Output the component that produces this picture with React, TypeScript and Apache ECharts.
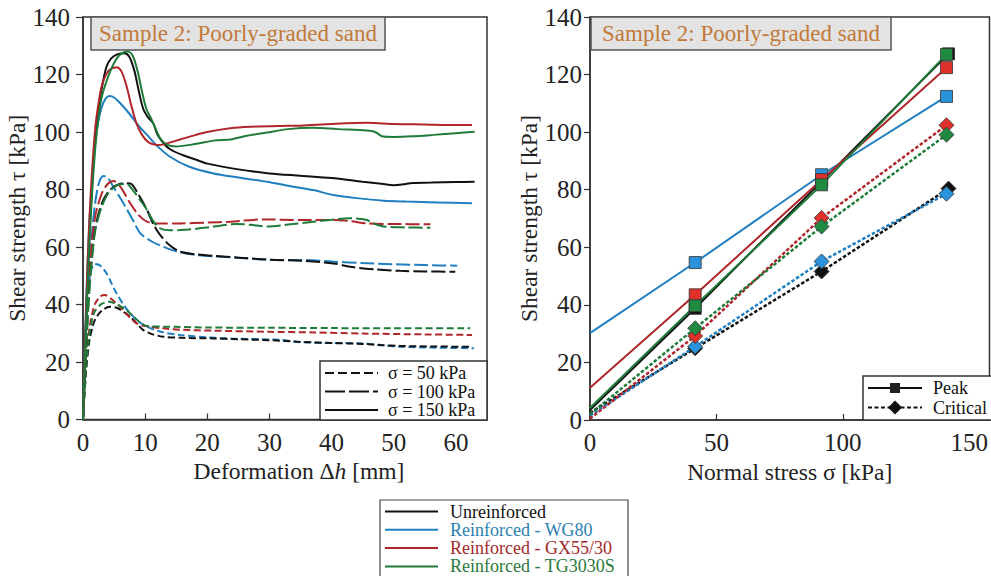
import React, { useEffect, useRef } from "react";
import * as echarts from "echarts";

// ---------- Left chart: shear strength vs deformation ----------
// [deformation mm, shear strength kPa]
const unreinforced150 = [[0,0],[0.5,35],[1,62],[1.5,83],[2,98],[2.5,108],[3,115],[3.75,122.5],[4.5,125.5],[5.5,127],[6.7,127.4],[7.5,126],[8.3,121],[9,114],[9.7,108],[10.5,105],[11.3,103],[12,99],[13,96],[14,94],[16,92],[18,90.5],[20,89],[25,87],[30,85.6],[35,84.8],[40,84],[45,82.7],[48,82],[50,81.5],[51.5,81.8],[53,82.3],[56,82.4],[60,82.6],[63,82.7]];
const wg80_150 = [[0,0],[0.5,40],[1,68],[1.6,86],[2,97],[2.4,103],[3,108.5],[3.6,111.5],[4.3,112.5],[5,112],[6,110],[7.6,106],[9,102],[10.3,99],[12,95],[14,91.4],[17,88],[21,85.6],[25,84.2],[29.6,82.7],[33,81.3],[37,79.8],[40.3,78.1],[44,77],[48.4,76.1],[52,75.8],[57,75.5],[62.6,75.2]];
const gx55_150 = [[0,0],[0.5,38],[1,68],[1.5,88],[2,102],[2.5,110],[2.95,115.5],[3.5,119],[4.2,121.5],[5.4,122.5],[6.2,121],[7,116],[7.8,109],[8.6,103],[9.5,99],[10.5,96.5],[11.9,95.5],[13,95.7],[15,97],[17.2,98.4],[20,100],[23.7,101.3],[27,101.8],[31.7,102.1],[35,102.2],[40,102.8],[45.7,103.2],[50,102.8],[55,102.6],[60,102.4],[62.6,102.4]];
const tg3030_150 = [[0,0],[0.5,33],[1,60],[1.5,80],[2,95],[2.5,105],[3,112],[4,119],[5,124],[6,127],[7.2,128],[8,126.5],[8.8,121],[9.5,114],[10.2,108],[11,104.5],[11.7,101],[12.5,97.5],[13.6,95.5],[15,95],[18,95.8],[21,97],[24,97.5],[26,98.5],[29.6,99.8],[33,101],[37,101.5],[41,101],[45.7,100.5],[47,100],[48.3,98.4],[50,98.3],[53,98.5],[56.4,99],[60,99.6],[63,100.1]];

const unreinforced100 = [[0,0],[0.5,25],[1,45],[1.5,58],[2,67],[3,75],[4,79],[5,81],[6,82],[7,82.2],[7.8,81.9],[9,78],[10.3,72.9],[11.3,68],[12.4,64.2],[14,60.5],[15.6,58.4],[18,57.5],[21,56.9],[25,56.3],[30,55.6],[35,55.2],[40.3,54.3],[43,53.1],[47,52.2],[51,51.7],[55,51.5],[59.9,51.4]];
const wg80_100 = [[0,0],[0.5,32],[1,52],[1.5,66],[2,76],[2.6,82.5],[3.3,84.7],[4,84],[5,80.5],[6.5,75.2],[8,69.5],[9.2,64.8],[11,62],[12.9,60.1],[15,58.5],[18.3,57.2],[23.7,56.4],[31.7,55.5],[35,55.5],[40.3,54.9],[45,54.4],[50,54],[55,53.7],[60.2,53.5]];
const gx55_100 = [[0,0],[0.5,28],[1,50],[1.5,63],[2,71],[3,78.5],[4,82],[4.9,83],[6,81],[7.6,75.2],[9,71],[10.3,68.8],[12,68.2],[15.6,68.2],[20,68.5],[23.7,68.8],[29,69.6],[35,69.4],[40.3,69.4],[43,69],[45.7,68.2],[50,68],[55.9,67.9]];
const tg3030_100 = [[0,0],[0.5,24],[1,44],[1.5,57],[2,66],[3,74],[4,78.5],[5,80.8],[6,81.8],[7,81.9],[8.3,79],[9.3,76],[10.3,72.9],[11.3,69],[12.4,66.5],[14,65.8],[15.6,65.9],[18,66.3],[21,67.1],[24.7,68],[27,67.7],[29.6,67.1],[33,67.8],[37.1,68.8],[40,69.5],[43,70],[45.5,69.5],[47,68],[48.4,67.1],[52,66.8],[55.9,66.7]];

const unreinforced50 = [[0,0],[0.5,17],[1,27],[1.5,32],[2,35],[3,37.8],[4.3,39.2],[5.5,38.8],[6.5,37.5],[7.6,35.8],[8.7,33.3],[9.7,31.1],[11,29.8],[12.9,28.8],[16,28.4],[21,28.2],[25,27.9],[30,27.6],[35,27],[40,26.6],[45,26.3],[48,25.9],[51,25.6],[56,25.4],[62.6,25.3]];
const wg80_50 = [[0,0],[0.4,25],[0.8,42],[1.2,51],[1.9,54.1],[2.8,53.5],[3.8,50.8],[4.6,47.3],[5.4,43.9],[6.5,40],[7.6,36.9],[9,34],[10.3,32.3],[12.5,30.5],[15.6,29.4],[20,28.6],[23.7,28.2],[31.7,27.7],[35,26.9],[40,26.6],[44.6,26.5],[48,25.8],[51,25.3],[56,25],[62.9,24.8]];
const gx55_50 = [[0,0],[0.5,20],[1,31],[1.5,37],[2,40.5],[2.8,42.8],[3.5,43.3],[4.5,42],[6,39.2],[7.3,36],[8.6,33.5],[10,32.5],[12.9,31.7],[16,31.2],[21,30.9],[30,30.5],[37.1,30.3],[45,29.9],[55,29.6],[62.6,29.4]];
const tg3030_50 = [[0,0],[0.5,18],[1,29],[1.5,35],[2,38],[3,40.2],[4.3,41],[5.5,40],[7,38.1],[8.3,35.5],[9.7,32.9],[11,32.4],[12.9,32.3],[20,32],[30,31.9],[40,31.8],[50,31.7],[62.3,31.7]];

// ---------- Right chart: failure envelopes ----------
const normalStress = [0, 41.6, 91.6, 141];
const peakUnreinforced = [3.5, 38.8, 82.9, 127.2];
const peakWG80 = [30.2, 54.7, 85.2, 112.4];
const peakGX55 = [11.2, 43.5, 83.5, 122.4];
const peakTG3030 = [4.2, 39.7, 81.7, 127];
const critUnreinforced = [2.5, 24.9, 51.6, 80.4];
const critWG80 = [1.5, 25.5, 55.1, 78.6];
const critGX55 = [0.5, 29.2, 70.2, 102.4];
const critTG3030 = [2, 31.9, 67.2, 99.1];

const leftTicksX = [0, 10, 20, 30, 40, 50, 60];
const rightTicksX = [0, 50, 100, 150];

const sampleTitle = "Sample 2: Poorly-graded sand";
const stressLegend = ["σ = 50 kPa", "σ = 100 kPa", "σ = 150 kPa"];
const typeLegend = ["Peak", "Critical"];
const reinforcementNames = ["Unreinforced", "Reinforced - WG80", "Reinforced - GX55/30", "Reinforced - TG3030S"];

const FONT = "Liberation Serif, Times New Roman, serif";
const LINE_COLORS = ["#111111", "#1f7fc0", "#b0262a", "#1e7b3a"];
const TEXT_COLORS = ["#111111", "#2a7fb0", "#a3282a", "#2a7a3a"];
const MARKER_FILLS = ["#111111", "#2a93dc", "#e0302c", "#1f8a40"];
const DASH_100 = [14, 4];
const DASH_50 = [7, 3.5];

export default function App() {
  const ref = useRef<HTMLDivElement>(null);

  useEffect(() => {
    if (!ref.current) return;
    const chart = echarts.init(ref.current, undefined, { renderer: "svg" });

    const axisLine = { show: true, onZero: false, lineStyle: { color: "#333", width: 1.5 } };
    const labelStyle = { fontFamily: FONT, fontSize: 25, color: "#222" };
    const nameStyle = { fontFamily: FONT, fontSize: 23.5, color: "#222" };

    const curveSets = [
      [unreinforced50, wg80_50, gx55_50, tg3030_50],
      [unreinforced100, wg80_100, gx55_100, tg3030_100],
      [unreinforced150, wg80_150, gx55_150, tg3030_150],
    ];
    const dashes: any[] = [DASH_50, DASH_100, "solid"];
    const series: any[] = [];
    const drawOrder = [1, 0, 2, 3];
    curveSets.forEach((set, si) => {
      drawOrder.forEach((ri) => {
        series.push({
          type: "line",
          name: reinforcementNames[ri] + " " + stressLegend[si],
          xAxisIndex: 0,
          yAxisIndex: 0,
          data: set[ri],
          showSymbol: false,
          symbol: "none",
          smooth: 0.3,
          lineStyle: { color: LINE_COLORS[ri], width: 2, type: dashes[si] },
          z: 2,
        });
      });
    });

    const peakSets = [peakUnreinforced, peakWG80, peakGX55, peakTG3030];
    const critSets = [critUnreinforced, critWG80, critGX55, critTG3030];
    const mk = (vals: number[], ri: number) =>
      vals.map((v, i) => {
        const x = ri === 0 && i === 3 ? normalStress[i] + 0.8 : normalStress[i];
        return i === 0 ? { value: [x, v], symbol: "none" } : { value: [x, v] };
      });
    [0, 1, 2, 3].forEach((ri) => {
      series.push({
        type: "line",
        name: reinforcementNames[ri] + " Critical",
        xAxisIndex: 1,
        yAxisIndex: 1,
        data: mk(critSets[ri], ri),
        symbol: "diamond",
        symbolSize: 15,
        lineStyle: { color: LINE_COLORS[ri], width: 2.5, type: [3.5, 2] },
        itemStyle: { color: MARKER_FILLS[ri], borderColor: "#333", borderWidth: 0.8 },
        z: 3,
      });
    });
    [0, 1, 2, 3].forEach((ri) => {
      series.push({
        type: "line",
        name: reinforcementNames[ri] + " Peak",
        xAxisIndex: 1,
        yAxisIndex: 1,
        data: mk(peakSets[ri], ri),
        symbol: "rect",
        symbolSize: 12,
        lineStyle: { color: LINE_COLORS[ri], width: 2 },
        itemStyle: { color: MARKER_FILLS[ri], borderColor: "#333", borderWidth: 0.8 },
        z: 4,
      });
    });

    const graphics: any[] = [];
    // Title boxes
    const titleBox = (x: number, w: number) => {
      graphics.push({
        type: "rect",
        shape: { x, y: 17, width: w, height: 33 },
        style: { fill: "#e3e3e3", stroke: "#555", lineWidth: 1.5 },
        z: 100,
      });
      graphics.push({
        type: "text",
        x: x + w / 2,
        y: 33,
        style: { text: sampleTitle, fontFamily: FONT, fontSize: 23, fill: "#c27a3a", align: "center", verticalAlign: "middle" },
        z: 101,
      });
    };
    titleBox(91, 294);
    titleBox(591, 300);

    // Left stress legend
    graphics.push({
      type: "rect",
      shape: { x: 320, y: 361, width: 167, height: 59 },
      style: { fill: "#fff", stroke: "#333", lineWidth: 1.5 },
      z: 100,
    });
    const sRows = [373, 391.5, 410];
    const sDash: any[] = [[9, 4], [20, 4], null];
    sRows.forEach((y, i) => {
      graphics.push({
        type: "line",
        shape: { x1: 325, y1: y, x2: 378, y2: y },
        style: { stroke: "#111", lineWidth: 2.2, lineDash: sDash[i] },
        z: 101,
      });
      graphics.push({
        type: "text",
        x: 388,
        y,
        style: { text: stressLegend[i], fontFamily: FONT, fontSize: 18, lineHeight: 17, fill: "#111", align: "left", verticalAlign: "middle" },
        z: 101,
      });
    });

    // Right type legend
    graphics.push({
      type: "rect",
      shape: { x: 863, y: 376, width: 140, height: 44 },
      style: { fill: "#fff", stroke: "#333", lineWidth: 1.5 },
      z: 100,
    });
    const tRows = [388, 407.5];
    tRows.forEach((y, i) => {
      graphics.push({
        type: "line",
        shape: { x1: 868, y1: y, x2: 922, y2: y },
        style: { stroke: "#111", lineWidth: 2.2, lineDash: i === 0 ? null : [4, 2.5] },
        z: 101,
      });
      if (i === 0) {
        graphics.push({ type: "rect", shape: { x: 890, y: y - 5, width: 10, height: 10 }, style: { fill: "#222" }, z: 102 });
      } else {
        graphics.push({
          type: "polygon",
          shape: { points: [[895, y - 7], [902, y], [895, y + 7], [888, y]] },
          style: { fill: "#111" },
          z: 102,
        });
      }
      graphics.push({
        type: "text",
        x: 933,
        y,
        style: { text: typeLegend[i], fontFamily: FONT, fontSize: 18, lineHeight: 17, fill: "#111", align: "left", verticalAlign: "middle" },
        z: 101,
      });
    });

    // Bottom reinforcement legend
    graphics.push({
      type: "rect",
      shape: { x: 380, y: 500, width: 248, height: 90 },
      style: { fill: "#fff", stroke: "#444", lineWidth: 1.2 },
      z: 100,
    });
    const rRows = [511.5, 529.8, 548.1, 566.4];
    rRows.forEach((y, i) => {
      graphics.push({
        type: "line",
        shape: { x1: 385, y1: y, x2: 438, y2: y },
        style: { stroke: LINE_COLORS[i], lineWidth: 2 },
        z: 101,
      });
      graphics.push({
        type: "text",
        x: 450,
        y,
        style: { text: reinforcementNames[i], fontFamily: FONT, fontSize: 18, lineHeight: 17, fill: TEXT_COLORS[i], align: "left", verticalAlign: "middle" },
        z: 101,
      });
    });

    const option: any = {
      animation: false,
      backgroundColor: "#ffffff",
      grid: [
        { left: 83, top: 17, width: 404, height: 402.5, show: true, borderColor: "#333", borderWidth: 1.5, backgroundColor: "transparent" },
        { left: 590, top: 17, width: 400, height: 403, show: true, borderColor: "#333", borderWidth: 1.5, backgroundColor: "transparent" },
      ],
      xAxis: [
        {
          gridIndex: 0,
          type: "value",
          min: leftTicksX[0],
          max: 65,
          interval: leftTicksX[1] - leftTicksX[0],
          axisLine,
          axisTick: { show: true, inside: true, length: 6, lineStyle: { color: "#333", width: 1.2 } },
          axisLabel: { ...labelStyle, margin: 10, showMaxLabel: false },
          splitLine: { show: false },
          name: "Deformation Δ{i|h} [mm]",
          nameLocation: "middle",
          nameGap: 34,
          nameTextStyle: { ...nameStyle, padding: [0, 0, 0, 28], rich: { i: { ...nameStyle, fontStyle: "italic" } } },
        },
        {
          gridIndex: 1,
          type: "value",
          min: rightTicksX[0],
          max: 158,
          interval: rightTicksX[1] - rightTicksX[0],
          axisLine,
          axisTick: { show: true, inside: true, length: 6, lineStyle: { color: "#333", width: 1.2 } },
          axisLabel: { ...labelStyle, margin: 10, showMaxLabel: false },
          splitLine: { show: false },
          name: "Normal stress σ [kPa]",
          nameLocation: "middle",
          nameGap: 34,
          nameTextStyle: nameStyle,
        },
      ],
      yAxis: [
        {
          gridIndex: 0,
          type: "value",
          min: 0,
          max: 140,
          interval: 20,
          axisLine,
          axisTick: { show: true, inside: false, length: 7, lineStyle: { color: "#333", width: 1.2 } },
          axisLabel: { ...labelStyle, margin: 13 },
          splitLine: { show: false },
          name: "Shear strength τ [kPa]",
          nameLocation: "middle",
          nameGap: 49,
          nameTextStyle: nameStyle,
        },
        {
          gridIndex: 1,
          type: "value",
          min: 0,
          max: 140,
          interval: 20,
          axisLine,
          axisTick: { show: true, inside: false, length: 6, lineStyle: { color: "#333", width: 1.2 } },
          axisLabel: { ...labelStyle, margin: 8 },
          splitLine: { show: false },
          name: "Shear strength τ [kPa]",
          nameLocation: "middle",
          nameGap: 46,
          nameTextStyle: nameStyle,
        },
      ],
      series,
      graphic: graphics,
    };

    chart.setOption(option);
    return () => chart.dispose();
  }, []);

  return (
    <div
      ref={ref}
      style={{ position: "fixed", left: 0, top: 0, width: 991, height: 576, background: "#fff" }}
    />
  );
}
